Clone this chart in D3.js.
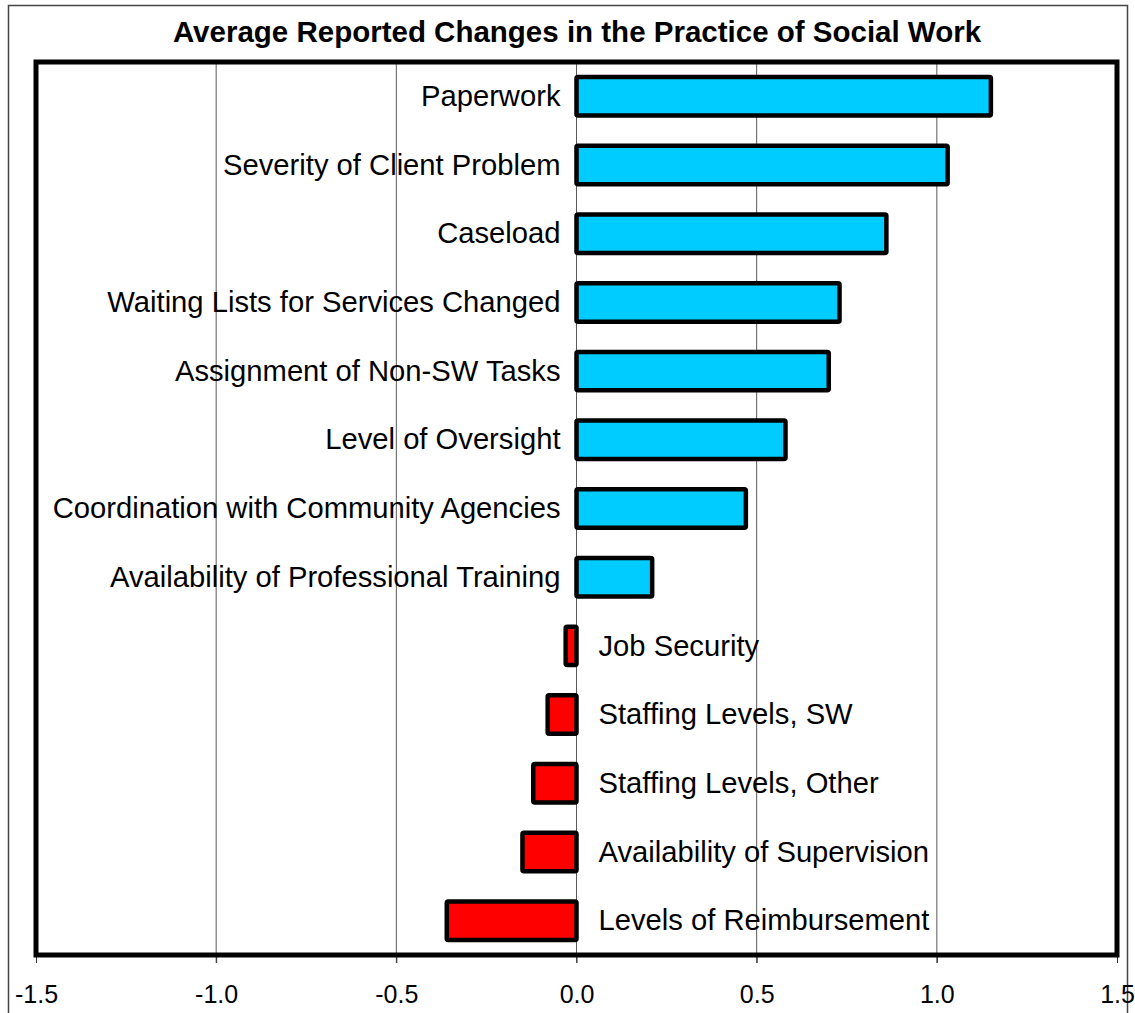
<!DOCTYPE html>
<html>
<head>
<meta charset="utf-8">
<script src="https://cdn.jsdelivr.net/npm/d3@7"></script>
<style>
body{margin:0;background:#fff;}
text{font-family:"Liberation Sans",Arial,sans-serif;}
</style>
</head>
<body>
<script>
var categories = ['Paperwork','Severity of Client Problem','Caseload','Waiting Lists for Services Changed','Assignment of Non-SW Tasks','Level of Oversight','Coordination with Community Agencies','Availability of Professional Training','Job Security','Staffing Levels, SW','Staffing Levels, Other','Availability of Supervision','Levels of Reimbursement'];
var values = [1.15,1.03,0.86,0.73,0.70,0.58,0.47,0.21,-0.03,-0.08,-0.12,-0.15,-0.36];
var ticks = [-1.5,-1.0,-0.5,0.0,0.5,1.0,1.5];
var title = 'Average Reported Changes in the Practice of Social Work';

var width = 1135, height = 1013, margin = {left:36,top:62,right:18,bottom:58},
	g_width = width - margin.left - margin.right, g_height = height - margin.top - margin.bottom;
var svg = d3.select('body').append('svg').attr('width',width).attr('height',height);

// outer frame
svg.append('rect').attr('x',8.5).attr('y',5.5).attr('width',1119).attr('height',1100)
	.attr('fill','none').attr('stroke','#444').attr('stroke-width',1.5);

svg.append('text').text(title).attr('x',577).attr('y',42).attr('text-anchor','middle')
	.attr('font-size','29.5px').attr('font-weight','bold');

var g = svg.append('g').attr('transform','translate('+margin.left+','+margin.top+')');
var scale_x = d3.scaleLinear().domain([-1.5,1.5]).range([0,g_width]);
var scale_y = d3.scaleBand().domain(categories).range([0,g_height]).paddingInner(0.44).paddingOuter(0.22);

// grid lines
g.selectAll('.grid').data(ticks.slice(1,-1)).enter().append('line')
	.attr('x1',function(d){return scale_x(d);}).attr('x2',function(d){return scale_x(d);})
	.attr('y1',0).attr('y2',g_height+8).attr('stroke','#5a5a5a').attr('stroke-width',1);

// x axis
var x_axis = d3.axisBottom(scale_x).tickValues(ticks).tickFormat(d3.format('.1f')).tickSize(8).tickPadding(22);
var ax = g.append('g').attr('transform','translate(0,'+g_height+')').call(x_axis);
ax.select('.domain').remove();
ax.selectAll('line').attr('stroke','#333');
ax.selectAll('text').attr('font-size','25px').attr('fill','#000')
	.text(function(d){return d3.format('.1f')(d).replace('−','-');});

// bars
g.selectAll('.bar').data(values).enter().append('rect')
	.attr('x',function(d){return scale_x(Math.min(0,d));})
	.attr('y',function(d,i){return scale_y(categories[i]);})
	.attr('width',function(d){return Math.abs(scale_x(d)-scale_x(0));})
	.attr('height',scale_y.bandwidth())
	.attr('fill',function(d){return d>=0?'#00ccff':'#ff0000';})
	.attr('stroke','#000').attr('stroke-width',4.5).attr('stroke-linejoin','round').attr('rx',1.5);

// labels
g.selectAll('.lab').data(values).enter().append('text')
	.text(function(d,i){return categories[i];})
	.attr('x',function(d){return d>=0?scale_x(0)-16:scale_x(0)+22;})
	.attr('y',function(d,i){return scale_y(categories[i])+scale_y.bandwidth()/2;})
	.attr('dy','0.33em')
	.attr('text-anchor',function(d){return d>=0?'end':'start';})
	.attr('font-size','29.2px');

// plot border
g.append('rect').attr('x',0).attr('y',0).attr('width',g_width).attr('height',g_height)
	.attr('fill','none').attr('stroke','#000').attr('stroke-width',5);
</script>
</body>
</html>
